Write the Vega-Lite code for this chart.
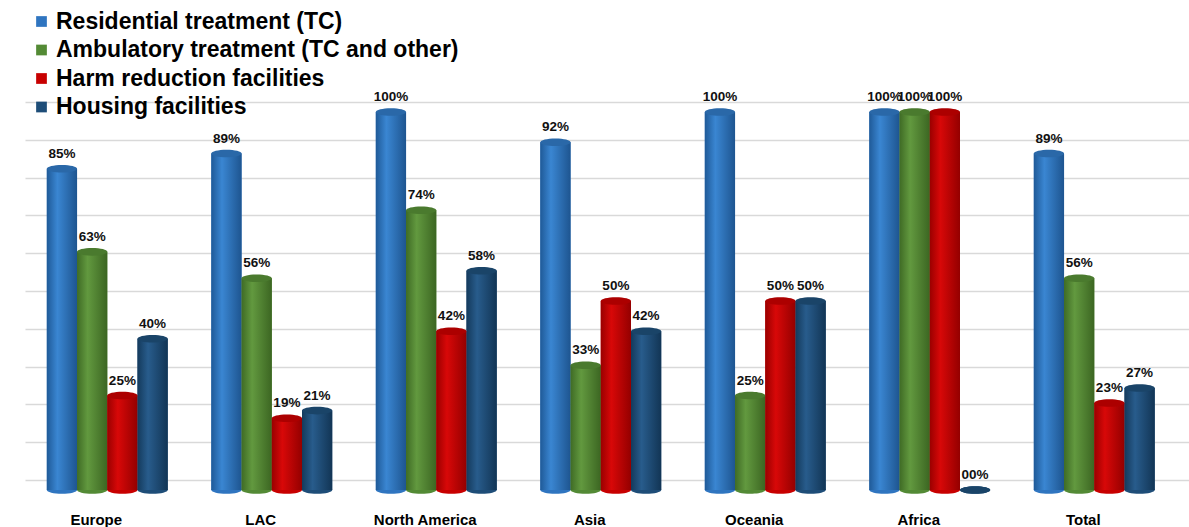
{
  "$schema": "https://vega.github.io/schema/vega-lite/v6.json",
  "width": 1164,
  "height": 378,
  "autosize": {"type": "none"},
  "padding": {"left": 25, "top": 112, "right": 0, "bottom": 37},
  "background": "white",
  "config": {
    "view": {"stroke": null},
    "font": "Liberation Sans",
    "legend": {
      "orient": "none",
      "legendX": 5,
      "legendY": -102,
      "symbolType": "square",
      "symbolSize": 115,
      "symbolStrokeWidth": 0,
      "labelFont": "Liberation Sans",
      "labelFontSize": 23,
      "labelFontWeight": "bold",
      "labelColor": "#000000",
      "labelOffset": 3,
      "labelLimit": 600,
      "rowPadding": 4.5,
      "title": null
    }
  },
  "data": {
    "values": [
      {"region": "Europe", "series": "Residential treatment (TC)", "value": 85, "label": "85%"},
      {"region": "Europe", "series": "Ambulatory treatment (TC and other)", "value": 63, "label": "63%"},
      {"region": "Europe", "series": "Harm reduction facilities", "value": 25, "label": "25%"},
      {"region": "Europe", "series": "Housing facilities", "value": 40, "label": "40%"},
      {"region": "LAC", "series": "Residential treatment (TC)", "value": 89, "label": "89%"},
      {"region": "LAC", "series": "Ambulatory treatment (TC and other)", "value": 56, "label": "56%"},
      {"region": "LAC", "series": "Harm reduction facilities", "value": 19, "label": "19%"},
      {"region": "LAC", "series": "Housing facilities", "value": 21, "label": "21%"},
      {"region": "North America", "series": "Residential treatment (TC)", "value": 100, "label": "100%"},
      {"region": "North America", "series": "Ambulatory treatment (TC and other)", "value": 74, "label": "74%"},
      {"region": "North America", "series": "Harm reduction facilities", "value": 42, "label": "42%"},
      {"region": "North America", "series": "Housing facilities", "value": 58, "label": "58%"},
      {"region": "Asia", "series": "Residential treatment (TC)", "value": 92, "label": "92%"},
      {"region": "Asia", "series": "Ambulatory treatment (TC and other)", "value": 33, "label": "33%"},
      {"region": "Asia", "series": "Harm reduction facilities", "value": 50, "label": "50%"},
      {"region": "Asia", "series": "Housing facilities", "value": 42, "label": "42%"},
      {"region": "Oceania", "series": "Residential treatment (TC)", "value": 100, "label": "100%"},
      {"region": "Oceania", "series": "Ambulatory treatment (TC and other)", "value": 25, "label": "25%"},
      {"region": "Oceania", "series": "Harm reduction facilities", "value": 50, "label": "50%"},
      {"region": "Oceania", "series": "Housing facilities", "value": 50, "label": "50%"},
      {"region": "Africa", "series": "Residential treatment (TC)", "value": 100, "label": "100%"},
      {"region": "Africa", "series": "Ambulatory treatment (TC and other)", "value": 100, "label": "100%"},
      {"region": "Africa", "series": "Harm reduction facilities", "value": 100, "label": "100%"},
      {"region": "Africa", "series": "Housing facilities", "value": 0, "label": "00%"},
      {"region": "Total", "series": "Residential treatment (TC)", "value": 89, "label": "89%"},
      {"region": "Total", "series": "Ambulatory treatment (TC and other)", "value": 56, "label": "56%"},
      {"region": "Total", "series": "Harm reduction facilities", "value": 23, "label": "23%"},
      {"region": "Total", "series": "Housing facilities", "value": 27, "label": "27%"}
    ]
  },
  "encoding": {
    "x": {
      "field": "region",
      "type": "nominal",
      "sort": ["Europe", "LAC", "North America", "Asia", "Oceania", "Africa", "Total"],
      "scale": {"paddingInner": 0.265, "paddingOuter": 0.1705, "align": 0.389},
      "title": null,
      "axis": {
        "labelAngle": 0,
        "labelFont": "Liberation Sans",
        "labelFontSize": 15,
        "labelFontWeight": "bold",
        "labelColor": "#000000",
        "labelPadding": 22,
        "labelOffset": -11,
        "domain": false,
        "ticks": false
      }
    },
    "xOffset": {
      "field": "series",
      "type": "nominal",
      "sort": ["Residential treatment (TC)", "Ambulatory treatment (TC and other)", "Harm reduction facilities", "Housing facilities"]
    },
    "y": {
      "field": "value",
      "type": "quantitative",
      "scale": {"domain": [0, 100]},
      "title": null,
      "axis": {
        "values": [0, 10, 20, 30, 40, 50, 60, 70, 80, 90, 100],
        "labels": false,
        "ticks": false,
        "domain": false,
        "grid": true,
        "gridColor": "#d9d9d9",
        "gridWidth": 1.5,
        "tickOffset": -10
      }
    }
  },
  "layer": [
    {
      "mark": {"type": "point", "shape": "M-1,0A1,0.25 0 1,0 1,0A1,0.25 0 1,0 -1,0Z", "size": 915, "filled": true, "opacity": 1, "strokeWidth": 0},
      "encoding": {
        "y": {"datum": 0},
        "color": {
          "field": "series",
          "type": "nominal",
          "scale": {
            "domain": ["Residential treatment (TC)", "Ambulatory treatment (TC and other)", "Harm reduction facilities", "Housing facilities"],
            "range": ["#2F75C0", "#538A35", "#C80000", "#1E4D78"]
          },
          "legend": {"symbolType": "square"}
        }
      }
    },
    {
      "mark": {"type": "bar"},
      "encoding": {
        "color": {"field": "series", "type": "nominal"}
      }
    },
    {
      "transform": [{"filter": "datum.series === 'Residential treatment (TC)'"}],
      "mark": {"type": "bar", "color": {"gradient": "linear", "x1": 0, "y1": 0, "x2": 1, "y2": 0,
        "stops": [{"offset": 0, "color": "#1F5A98"}, {"offset": 0.35, "color": "#3A86D2"}, {"offset": 1, "color": "#1E5590"}]}}
    },
    {
      "transform": [{"filter": "datum.series === 'Ambulatory treatment (TC and other)'"}],
      "mark": {"type": "bar", "color": {"gradient": "linear", "x1": 0, "y1": 0, "x2": 1, "y2": 0,
        "stops": [{"offset": 0, "color": "#3F6B25"}, {"offset": 0.35, "color": "#62993F"}, {"offset": 1, "color": "#3C6622"}]}}
    },
    {
      "transform": [{"filter": "datum.series === 'Harm reduction facilities'"}],
      "mark": {"type": "bar", "color": {"gradient": "linear", "x1": 0, "y1": 0, "x2": 1, "y2": 0,
        "stops": [{"offset": 0, "color": "#9A0000"}, {"offset": 0.35, "color": "#D80808"}, {"offset": 1, "color": "#940000"}]}}
    },
    {
      "transform": [{"filter": "datum.series === 'Housing facilities'"}],
      "mark": {"type": "bar", "color": {"gradient": "linear", "x1": 0, "y1": 0, "x2": 1, "y2": 0,
        "stops": [{"offset": 0, "color": "#143A5C"}, {"offset": 0.35, "color": "#285C8C"}, {"offset": 1, "color": "#123555"}]}}
    },
    {
      "mark": {"type": "point", "shape": "M-1,0A1,0.25 0 1,0 1,0A1,0.25 0 1,0 -1,0Z", "size": 915, "filled": true, "opacity": 1, "strokeWidth": 0},
      "encoding": {
        "fill": {
          "field": "series",
          "type": "nominal",
          "scale": {
            "domain": ["Residential treatment (TC)", "Ambulatory treatment (TC and other)", "Harm reduction facilities", "Housing facilities"],
            "range": ["#2A68A8", "#4A7A2E", "#AC0000", "#1A4468"]
          },
          "legend": null
        }
      }
    },
    {
      "mark": {"type": "text", "font": "Liberation Sans", "fontSize": 13.5, "fontWeight": "bold", "color": "#111111", "baseline": "middle", "dy": -15},
      "encoding": {"text": {"field": "label"}}
    }
  ]
}
